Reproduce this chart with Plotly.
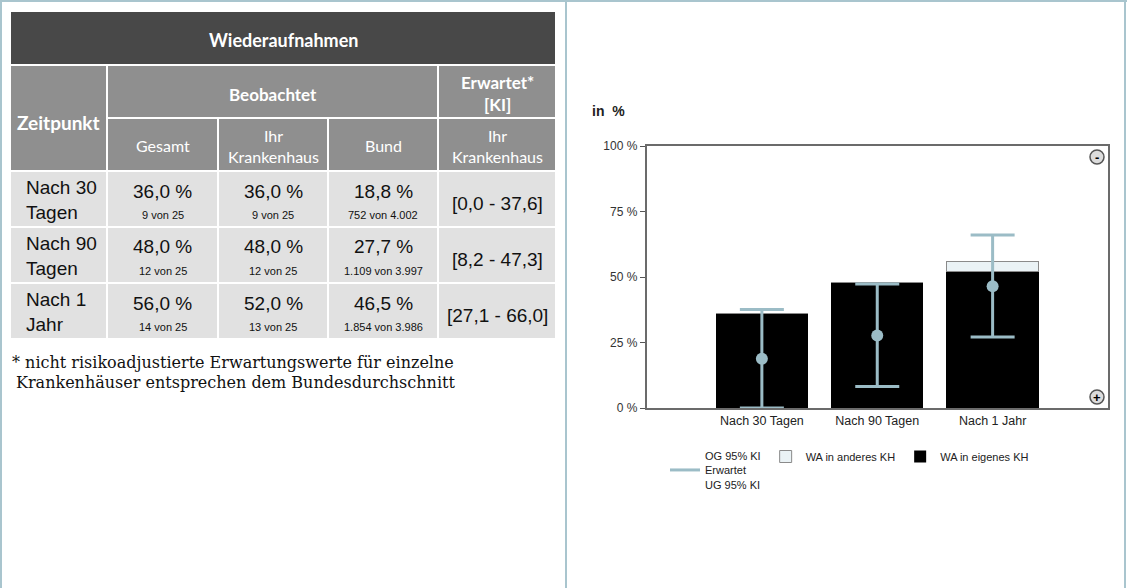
import plotly.graph_objects as go

# ---------------- data ----------------
zeitpunkte = ["Nach 30 Tagen", "Nach 90 Tagen", "Nach 1 Jahr"]
table_labels = ["Nach 30<br>Tagen", "Nach 90<br>Tagen", "Nach 1<br>Jahr"]
gesamt_pct = [36.0, 48.0, 56.0]
gesamt_n = [9, 12, 14]
gesamt_N = [25, 25, 25]
ihr_pct = [36.0, 48.0, 52.0]
ihr_n = [9, 12, 13]
ihr_N = [25, 25, 25]
bund_pct = [18.8, 27.7, 46.5]
bund_n = [752, 1109, 1854]
bund_N = [4002, 3997, 3986]
ki_lo = [0.0, 8.2, 27.1]
ki_hi = [37.6, 47.3, 66.0]
wa_eigenes = [36.0, 48.0, 52.0]
wa_anderes = [0.0, 0.0, 4.0]
y_ticks = [0, 25, 50, 75, 100]

# ---------------- helpers ----------------
W, H = 1127, 588
def px(x):
    return x / W
def py(y):
    return 1 - y / H

def de_pct(v):
    return f"{v:.1f}".replace(".", ",") + " %"
def de_num(n):
    return f"{n:,}".replace(",", ".")
def de_dec(v):
    return f"{v:.1f}".replace(".", ",")

NARROW = "Liberation Sans, Arial, sans-serif"
HEAD = "Lato, Open Sans, sans-serif"
CHART = "Liberation Sans, Arial, sans-serif"
ACCENT = "#9bbcc6"

shapes = []
annotations = []

def rect(x0, y0, x1, y1, fill, line=None, lw=0):
    shapes.append(dict(type="rect", xref="paper", yref="paper",
                       x0=px(x0), x1=px(x1), y0=py(y1), y1=py(y0),
                       fillcolor=fill, line=dict(color=line or fill, width=lw),
                       layer="below"))

def text(x, y, s, size, color="#111", family=NARROW, bold=False, xanchor="center", yanchor="middle", align="center"):
    if bold:
        s = f"<b>{s}</b>"
    annotations.append(dict(xref="paper", yref="paper", x=px(x), y=py(y), text=s,
                            showarrow=False, xanchor=xanchor, yanchor=yanchor, align=align,
                            font=dict(size=size, color=color, family=family)))

# ---------------- page frame ----------------
FRAME = "#a9c5ce"
shapes.append(dict(type="line", xref="paper", yref="paper", x0=0, x1=1, y0=py(1), y1=py(1), line=dict(color=FRAME, width=2)))
shapes.append(dict(type="line", xref="paper", yref="paper", x0=px(1), x1=px(1), y0=0, y1=1, line=dict(color=FRAME, width=2)))
shapes.append(dict(type="line", xref="paper", yref="paper", x0=px(566), x1=px(566), y0=0, y1=1, line=dict(color=FRAME, width=2)))
shapes.append(dict(type="line", xref="paper", yref="paper", x0=px(1125), x1=px(1125), y0=0, y1=1, line=dict(color=FRAME, width=2)))

# ---------------- table ----------------
DARK, MID, LIGHT = "#484848", "#8f8f8f", "#e1e1e1"
cols = [11, 107, 218, 328, 438, 555]
G = 1  # half gap
def cx0(i):
    return cols[i] + (G if i > 0 else 0)
def cx1(i):
    return cols[i + 1] - (G if i + 1 < len(cols) - 1 else 0)

rect(11, 12, 555, 64, DARK)
text(283, 40, "Wiederaufnahmen", 18, "white", HEAD, bold=True)

rect(cx0(0), 66, cx1(0), 170, MID)
text((cx0(0) + cx1(0)) / 2, 122, "Zeitpunkt", 19, "white", HEAD, bold=True)
rect(cx0(1), 66, cx1(3), 117, MID)
text((cx0(1) + cx1(3)) / 2, 94, "Beobachtet", 17, "white", HEAD, bold=True)
rect(cx0(4), 66, cx1(4), 117, MID)
text((cx0(4) + cx1(4)) / 2, 93, "Erwartet*<br>[KI]", 17, "white", HEAD, bold=True)

sub_heads = ["Gesamt", "Ihr<br>Krankenhaus", "Bund", "Ihr<br>Krankenhaus"]
for i, s in enumerate(sub_heads):
    rect(cx0(i + 1), 119, cx1(i + 1), 170, MID)
    text((cx0(i + 1) + cx1(i + 1)) / 2, 146, s, 16, "white", HEAD)

row_tops = [172, 228, 284]
ROW_H = 54
for r in range(3):
    t = row_tops[r]
    b = t + ROW_H
    for c in range(5):
        rect(cx0(c), t, cx1(c), b, LIGHT)
    text(24, t + 28, table_labels[r], 19, "#111", NARROW, xanchor="left", align="left")
    vals = [(gesamt_pct[r], gesamt_n[r], gesamt_N[r]),
            (ihr_pct[r], ihr_n[r], ihr_N[r]),
            (bund_pct[r], bund_n[r], bund_N[r])]
    for c, (p, n, N) in enumerate(vals):
        xc = (cx0(c + 1) + cx1(c + 1)) / 2
        text(xc, t + 19, de_pct(p), 19, "#111", NARROW)
        text(xc, t + 43, f"{de_num(n)} von {de_num(N)}", 11, "#111", NARROW)
    xc = (cx0(4) + cx1(4)) / 2
    text(xc, t + 31, f"[{de_dec(ki_lo[r])} - {de_dec(ki_hi[r])}]", 19, "#111", NARROW)

text(10, 362, "* nicht risikoadjustierte Erwartungswerte für einzelne", 16, "#111",
     "DejaVu Serif, serif", xanchor="left")
text(14, 382, "Krankenhäuser entsprechen dem Bundesdurchschnitt", 16, "#111",
     "DejaVu Serif, serif", xanchor="left")

# ---------------- chart ----------------
fig = go.Figure()
fig.add_trace(go.Bar(x=zeitpunkte, y=wa_eigenes, name="WA in eigenes KH",
                     marker=dict(color="#000000", line=dict(width=0)), legendrank=3))
fig.add_trace(go.Bar(x=zeitpunkte, y=wa_anderes, name="WA in anderes KH",
                     marker=dict(color="#eaf2f5", line=dict(color="#8a8a8a", width=1)),
                     legendrank=2))
fig.add_trace(go.Scatter(x=zeitpunkte, y=bund_pct, mode="markers", showlegend=False,
                         marker=dict(size=12, color=ACCENT),
                         error_y=dict(type="data", symmetric=False,
                                      array=[h - v for h, v in zip(ki_hi, bund_pct)],
                                      arrayminus=[v - l for l, v in zip(ki_lo, bund_pct)],
                                      color=ACCENT, thickness=3, width=22)))
fig.add_trace(go.Scatter(x=[None], y=[None], mode="lines", name="OG 95% KI<br>Erwartet<br>UG 95% KI",
                         line=dict(color=ACCENT, width=3), legendrank=1))

# title "in %"
text(590, 111, "in  %", 14, "#222", CHART, bold=True, xanchor="left")

# zoom icons
for (xc, yc, s) in [(1097, 157, "-"), (1097, 397, "+")]:
    shapes.append(dict(type="circle", xref="paper", yref="paper",
                       x0=px(xc - 7), x1=px(xc + 7), y0=py(yc + 7), y1=py(yc - 7),
                       fillcolor="#dcdcdc", line=dict(color="#555", width=1.5), layer="above"))
    text(xc, yc, s, 13, "#000", CHART, bold=True)

fig.update_layout(
    width=W, height=H, autosize=False,
    margin=dict(l=0, r=0, t=0, b=0, pad=0, autoexpand=False),
    paper_bgcolor="white", plot_bgcolor="white",
    barmode="stack", bargap=0.2,
    showlegend=True,
    legend=dict(orientation="h", x=px(665), y=py(442), xanchor="left", yanchor="top",
                font=dict(size=11, color="#222", family=CHART), traceorder="normal",
                bgcolor="rgba(0,0,0,0)", itemwidth=30, tracegroupgap=0),
    xaxis=dict(domain=[px(646.5), px(1108)], range=[-1, 3], type="category",
               showline=True, mirror=True, linecolor="#6b6b6b", linewidth=1.5,
               showgrid=False, ticks="", tickfont=dict(size=12.5, color="#222", family=CHART),
               fixedrange=True, automargin=False),
    yaxis=dict(domain=[py(408), py(146)], range=[0, 100], tickvals=y_ticks,
               ticktext=[f"{v} %" for v in y_ticks],
               showline=True, mirror=True, linecolor="#6b6b6b", linewidth=1.5,
               showgrid=False, zeroline=False, ticks="outside", ticklen=5, tickcolor="#555",
               tickfont=dict(size=12, color="#333", family=CHART), fixedrange=True,
               automargin=False),
    shapes=shapes, annotations=annotations,
    font=dict(family=CHART),
)

fig.write_html(
    "out.html",
    config={"displayModeBar": False},
    post_script=(
        "document.documentElement.style.margin='0';"
        "document.documentElement.style.overflow='hidden';"
        "document.body.style.margin='0';document.body.style.padding='0';"
        "document.body.style.overflow='hidden';"
        "var d=document.getElementById('{plot_id}');"
        "d.style.position='fixed';d.style.top='0px';d.style.left='0px';"
    ),
)
